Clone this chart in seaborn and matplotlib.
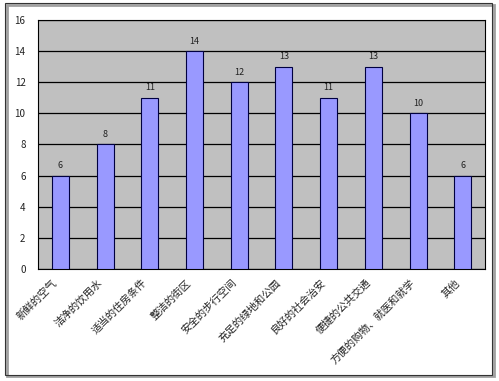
import matplotlib
matplotlib.use("Agg")
import matplotlib.pyplot as plt
import matplotlib.transforms as mtransforms
import seaborn as sns
import pandas as pd
from matplotlib.patches import Rectangle

categories = ["新鲜的空气", "洁净的饮用水", "适当的住房条件", "整洁的街区", "安全的步行空间",
              "充足的绿地和公园", "良好的社会治安", "便捷的公共交通", "方便的购物、就医和就学", "其他"]
values = [6, 8, 11, 14, 12, 13, 11, 13, 10, 6]
y_ticks = [0, 2, 4, 6, 8, 10, 12, 14, 16]

df = pd.DataFrame({"item": categories, "count": values})

sns.set_style("white")
plt.rcParams["font.family"] = ["Noto Sans CJK SC", "DejaVu Sans"]

fig = plt.figure(figsize=(4.99, 3.81), dpi=100)
# outer chart frame with a light shadow
fig.patches.append(Rectangle((0.014, 0.012), 0.975, 0.975, transform=fig.transFigure,
                             fill=False, edgecolor="#a0a0a0", linewidth=2.0, zorder=0))
fig.patches.append(Rectangle((0.010, 0.016), 0.975, 0.975, transform=fig.transFigure,
                             fill=False, edgecolor="#333333", linewidth=0.8, zorder=1))

ax = fig.add_axes([0.0762, 0.294, 0.896, 0.654])
ax.set_facecolor("#c0c0c0")
sns.barplot(data=df, x="item", y="count", color="#9999ff", saturation=1, width=0.38,
            edgecolor="#000040", linewidth=0.8, ax=ax, zorder=3)

ax.set_ylim(0, 16)
ax.set_yticks(y_ticks)
ax.yaxis.grid(True, color="black", linewidth=0.9, zorder=0)
ax.set_axisbelow(True)
ax.set_xlabel("")
ax.set_ylabel("")
for s in ax.spines.values():
    s.set_color("black")
    s.set_linewidth(0.8)

ax.tick_params(axis="y", labelsize=7, length=0, pad=9, colors="#222222")
ax.tick_params(axis="x", labelsize=7.5, length=0, pad=6, colors="#222222")
ax.set_xticks([i + 0.5 for i in range(len(categories) - 1)], minor=True)
ax.tick_params(axis="x", which="minor", length=3, direction="in")
shift = mtransforms.ScaledTranslation(-6 / 72, 0, fig.dpi_scale_trans)
for lbl in ax.get_xticklabels():
    lbl.set_rotation(45)
    lbl.set_ha("right")
    lbl.set_rotation_mode("anchor")
    lbl.set_transform(lbl.get_transform() + shift)

for i, v in enumerate(values):
    ax.text(i, v + 0.35, str(v), ha="center", va="bottom", fontsize=6.5, color="#222222")

fig.savefig("out.png", dpi=100)
